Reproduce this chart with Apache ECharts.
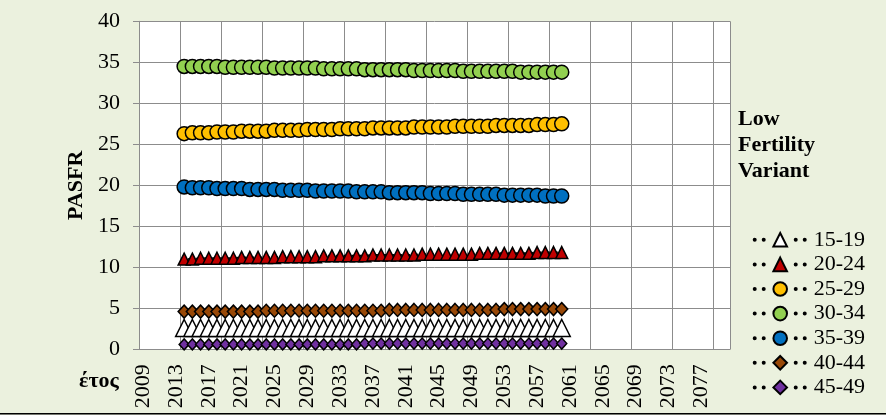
<!DOCTYPE html>
<html>
<head>
    <meta charset="UTF-8">
    <title>PASFR - Low Fertility Variant</title>
    <script src="https://cdn.jsdelivr.net/npm/echarts@6/dist/echarts.min.js"></script>
    <style>
        html, body {
            margin: 0;
            padding: 0;
            background-color: #ebf1de;
        }
        #chart {
            width: 886px;
            height: 415px;
        }
    </style>
</head>
<body>
    <div id="chart"></div>

    <script>
        // categories on the x axis (one per year)
        const years = [
            '2009','2010','2011','2012','2013','2014','2015','2016','2017','2018',
            '2019','2020','2021','2022','2023','2024','2025','2026','2027','2028',
            '2029','2030','2031','2032','2033','2034','2035','2036','2037','2038',
            '2039','2040','2041','2042','2043','2044','2045','2046','2047','2048',
            '2049','2050','2051','2052','2053','2054','2055','2056','2057','2058',
            '2059','2060','2061','2062','2063','2064','2065','2066','2067','2068',
            '2069','2070','2071','2072','2073','2074','2075','2076','2077','2078',
            '2079','2080'
        ];
        // the projection runs 2014..2060
        const dataYears = years.slice(5, 52);

        const age15_19 = [2.6,2.6,2.6,2.6,2.6,2.6,2.6,2.6,2.6,2.6,2.6,2.6,2.6,2.6,2.6,2.6,
            2.6,2.6,2.6,2.6,2.6,2.6,2.6,2.6,2.6,2.6,2.6,2.6,2.6,2.6,2.6,2.6,
            2.6,2.6,2.6,2.6,2.6,2.6,2.6,2.6,2.6,2.6,2.6,2.6,2.6,2.6,2.6];
        const age20_24 = [11.0,11.0,11.1,11.1,11.1,11.1,11.1,11.2,11.2,11.2,11.2,11.2,11.3,11.3,11.3,11.3,
            11.3,11.4,11.4,11.4,11.4,11.4,11.4,11.5,11.5,11.5,11.5,11.5,11.5,11.6,11.6,11.6,
            11.6,11.6,11.6,11.6,11.7,11.7,11.7,11.7,11.7,11.7,11.7,11.8,11.8,11.8,11.8];
        const age25_29 = [26.3,26.4,26.4,26.4,26.5,26.5,26.5,26.6,26.6,26.6,26.6,26.7,26.7,26.7,26.7,26.8,
            26.8,26.8,26.8,26.9,26.9,26.9,26.9,27.0,27.0,27.0,27.0,27.0,27.1,27.1,27.1,27.1,
            27.1,27.2,27.2,27.2,27.2,27.2,27.3,27.3,27.3,27.3,27.3,27.4,27.4,27.4,27.5];
        const age30_34 = [34.5,34.5,34.5,34.5,34.5,34.4,34.4,34.4,34.4,34.4,34.4,34.3,34.3,34.3,34.3,34.3,
            34.3,34.2,34.2,34.2,34.2,34.2,34.1,34.1,34.1,34.1,34.1,34.1,34.0,34.0,34.0,34.0,
            34.0,34.0,33.9,33.9,33.9,33.9,33.9,33.9,33.9,33.8,33.8,33.8,33.8,33.8,33.8];
        const age35_39 = [19.8,19.7,19.7,19.7,19.6,19.6,19.6,19.6,19.5,19.5,19.5,19.5,19.4,19.4,19.4,19.4,
            19.3,19.3,19.3,19.3,19.3,19.2,19.2,19.2,19.2,19.1,19.1,19.1,19.1,19.1,19.0,19.0,
            19.0,19.0,18.9,18.9,18.9,18.9,18.9,18.8,18.8,18.8,18.8,18.8,18.7,18.7,18.7];
        const age40_44 = [4.6,4.6,4.6,4.6,4.6,4.6,4.6,4.6,4.6,4.6,4.7,4.7,4.7,4.7,4.7,4.7,
            4.7,4.7,4.7,4.7,4.7,4.7,4.7,4.7,4.7,4.8,4.8,4.8,4.8,4.8,4.8,4.8,
            4.8,4.8,4.8,4.8,4.8,4.8,4.8,4.9,4.9,4.9,4.9,4.9,4.9,4.9,4.9];
        const age45_49 = [0.6,0.6,0.6,0.6,0.6,0.6,0.6,0.6,0.6,0.6,0.6,0.6,0.6,0.6,0.6,0.6,
            0.6,0.6,0.6,0.6,0.6,0.6,0.7,0.7,0.7,0.7,0.7,0.7,0.7,0.7,0.7,0.7,
            0.7,0.7,0.7,0.7,0.7,0.7,0.7,0.7,0.7,0.7,0.7,0.7,0.7,0.7,0.7];

        const yTicks = { min: 0, max: 40, step: 5 };

        const font = 'Liberation Serif';
        const gridColor = '#8c8c8c';

        function makeSeries(name, values, symbol, size, color) {
            return {
                name: name,
                type: 'line',
                data: values.map((v, i) => [dataYears[i], v]),
                symbol: symbol,
                symbolSize: size,
                showSymbol: true,
                showAllSymbol: true,
                lineStyle: { color: '#000', width: 2, type: 'dotted' },
                itemStyle: { color: color, borderColor: '#000', borderWidth: 1.5 }
            };
        }

        const chart = echarts.init(document.getElementById('chart'));
        const option = {
            animation: false,
            backgroundColor: '#ebf1de',
            title: {
                text: 'Low\nFertility\nVariant',
                left: 738,
                top: 106,
                padding: 0,
                textStyle: { fontFamily: font, fontSize: 22, fontWeight: 'bold', lineHeight: 26.3, color: '#000' }
            },
            legend: {
                orient: 'vertical',
                left: 752.7,
                top: 228.8,
                padding: 0,
                itemWidth: 51,
                itemHeight: 17,
                itemGap: 2.6,
                lineStyle: { color: '#000', width: 4, cap: 'round', type: [0.01, 9, 0.01, 32, 0.01, 9, 0.01, 100], opacity: 1 },
                textStyle: { fontFamily: font, fontSize: 22, lineHeight: 21, color: '#000', padding: [0, 0, 0, 3] }
            },
            grid: {
                left: 139,
                top: 21.3,
                width: 591,
                height: 328,
                show: true,
                backgroundColor: '#fff',
                borderWidth: 0
            },
            xAxis: {
                type: 'category',
                data: years,
                boundaryGap: true,
                axisLine: { lineStyle: { color: gridColor } },
                axisTick: { interval: 4, length: 5, lineStyle: { color: gridColor } },
                splitLine: { show: true, interval: 4, lineStyle: { color: gridColor, width: 1 } },
                axisLabel: { interval: 3, rotate: 90, margin: 15, fontFamily: font, fontSize: 22, color: '#000' }
            },
            yAxis: {
                type: 'value',
                min: yTicks.min,
                max: yTicks.max,
                interval: yTicks.step,
                name: 'PASFR',
                nameLocation: 'middle',
                nameGap: 43,
                nameTextStyle: { fontFamily: font, fontSize: 22, fontWeight: 'bold', color: '#000' },
                axisLine: { show: true, lineStyle: { color: gridColor } },
                axisTick: { show: true, length: 6, lineStyle: { color: gridColor } },
                splitLine: { lineStyle: { color: gridColor, width: 1 } },
                axisLabel: { margin: 19, fontFamily: font, fontSize: 22, color: '#000' }
            },
            graphic: [
                {
                    type: 'text',
                    left: 79,
                    top: 370,
                    style: { text: 'έτος', font: 'bold 22px "Liberation Serif"', fill: '#000' }
                },
                {
                    type: 'rect',
                    left: 0,
                    top: 413,
                    shape: { width: 886, height: 1.5 },
                    style: { fill: '#000' }
                }
            ],
            series: [
                makeSeries('15-19', age15_19, 'triangle', 17, '#ffffff'),
                makeSeries('20-24', age20_24, 'triangle', 12, '#c00000'),
                makeSeries('25-29', age25_29, 'circle', 14, '#ffc000'),
                makeSeries('30-34', age30_34, 'circle', 14, '#92d050'),
                makeSeries('35-39', age35_39, 'circle', 14, '#0070c0'),
                makeSeries('40-44', age40_44, 'diamond', [12, 13], '#984807'),
                makeSeries('45-49', age45_49, 'diamond', [10, 11], '#7030a0')
            ]
        };
        chart.setOption(option);
    </script>
</body>
</html>
